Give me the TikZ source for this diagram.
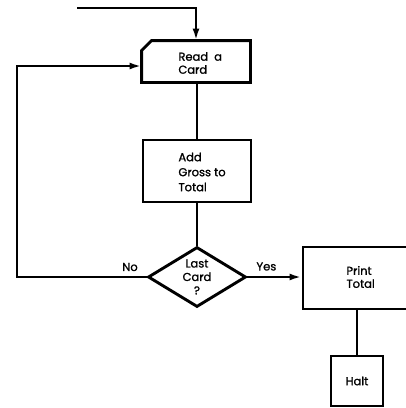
\documentclass[tikz,border=0pt]{standalone}
\usepackage{fontspec}
\setmainfont{Poppins}[FakeBold=1.2]
\usetikzlibrary{shapes.geometric,arrows.meta}
\begin{document}
\begin{tikzpicture}[x=1pt,y=-1pt,
  line width=2.9pt,
  every node/.style={font=\fontsize{11.5}{13}\selectfont, inner sep=0pt},
  box/.style={draw, rectangle, minimum width=#1},
  arr/.style={-{Latex[length=12pt,width=7pt]}},
  lbl/.style={font=\fontsize{11.5}{11}\selectfont}
]
\useasboundingbox (0,0) rectangle (406,408);
\clip (0,0) rectangle (406,408);
% Read a Card (card shape)
\node (read) [minimum width=106pt, minimum height=39pt] at (196,61.5) {};
\draw (read.south west) -- ([yshift=-10pt]read.north west) -- ([xshift=10pt]read.north west) -- (read.north east) -- (read.south east) -- cycle;
\node (readtxt) [align=left, anchor=west] at (177,63) {Read\ \ a\\Card};
% Add Gross to Total
\node (add) [box=108pt, minimum height=62pt] at (197,171) {};
\node (addtxt) [align=left, anchor=west, font=\fontsize{11.5}{15}\selectfont] at (177,172) {Add\\Gross to\\Total};
% Diamond
\node (last) [draw, diamond, aspect=1.63, minimum width=98pt, minimum height=60pt, align=center, font=\fontsize{11.5}{13.5}\selectfont] at (197,277) {Last\\Card\\?};
% Print Total
\node (print) [draw, minimum width=112pt, minimum height=62pt] at (359,278) {};
\node (printtxt) [align=left, anchor=west] at (345,277) {Print\\Total};
% Halt
\node (halt) [draw, minimum width=52pt, minimum height=50pt] at (357,381) {Halt};
% entry
\coordinate (start) at (77,8);
\draw[arr] (start) -- (start -| read) -- (read.north);
% flow
\draw (read.south -| add) -- (add.north);
\draw (add.south) -- (last.north);
\draw[arr] (last.east) -- (print.west |- last.east) node[lbl, pos=0.35, above=5pt] {Yes};
\draw (print.south -| halt) -- (halt.north);
% loop back
\coordinate (lc) at (17,277);
\draw[arr] (last.west) -- (lc) -- (lc |- 0,66) -- (read.west |- 0,66);
\node[lbl] (no) at (130,267) {No};
\end{tikzpicture}
\end{document}
